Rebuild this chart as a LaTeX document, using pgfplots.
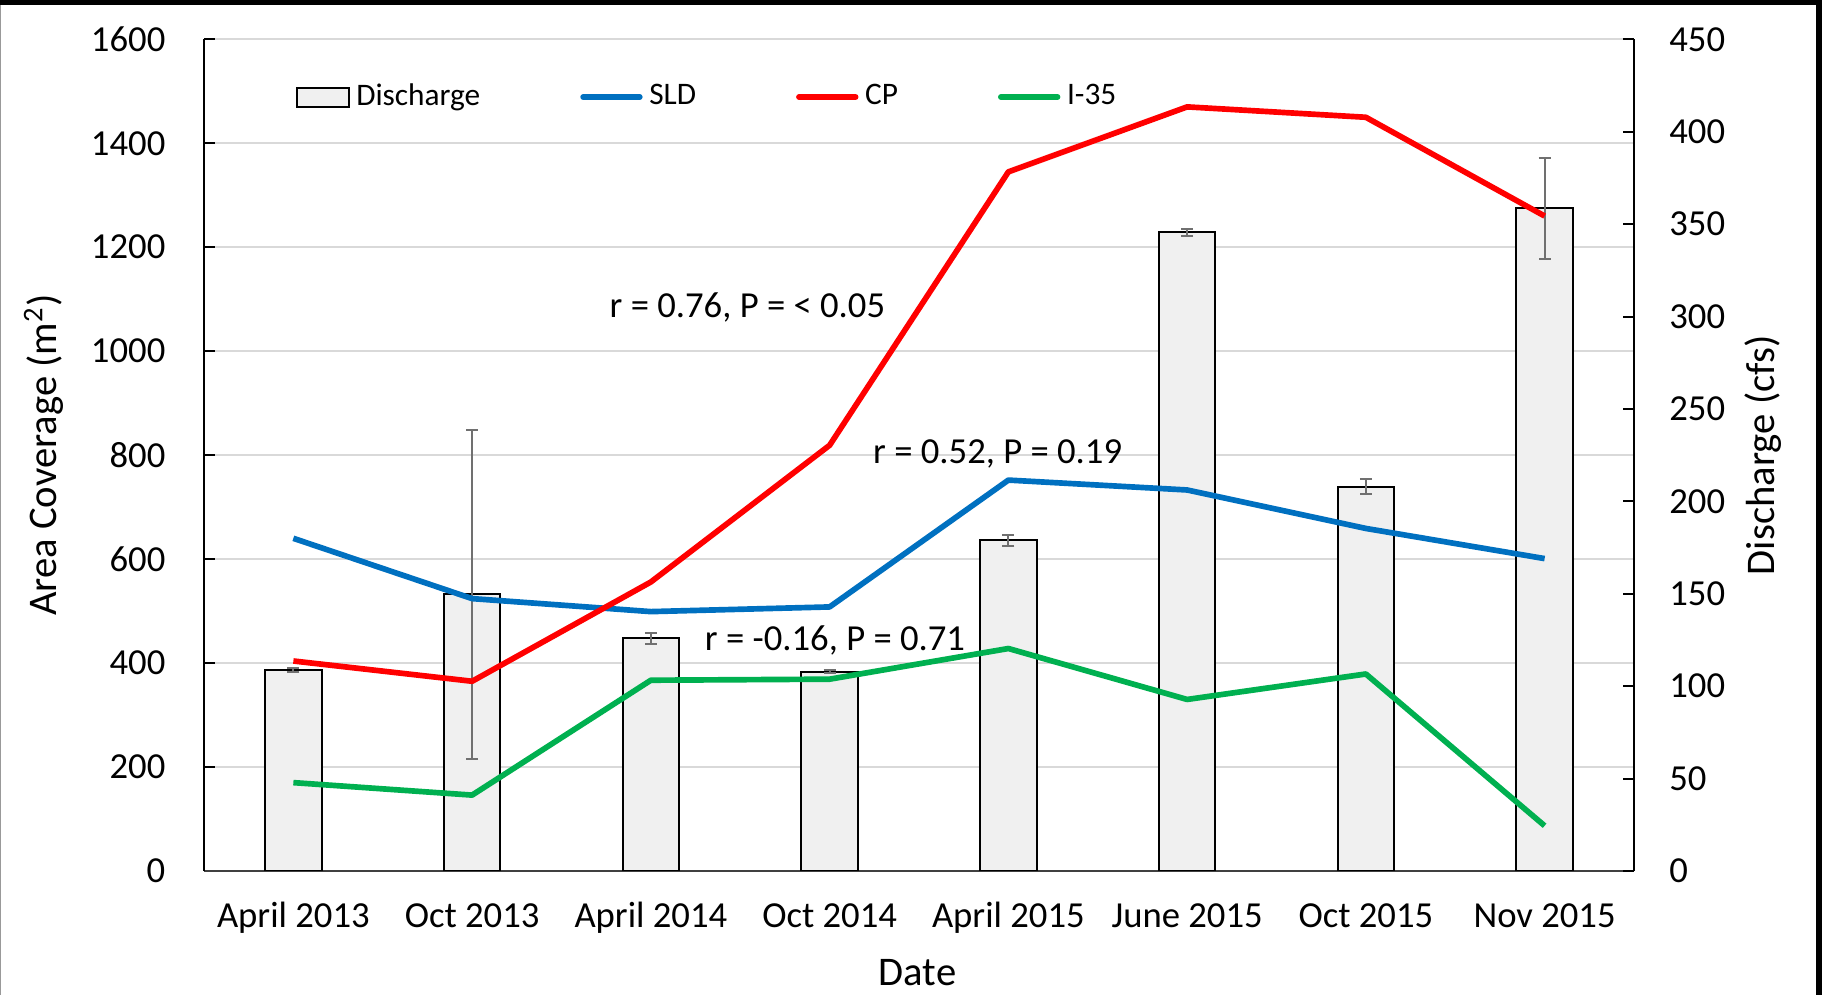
\documentclass[border=0pt]{standalone}
\usepackage{fontspec}
\setmainfont{Carlito}
\usepackage{pgfplots}
\pgfplotsset{compat=1.18}

\definecolor{sld}{HTML}{0070C0}
\definecolor{cp}{HTML}{FF0000}
\definecolor{ithirtyfive}{HTML}{00B050}
\definecolor{barfill}{HTML}{F0F0F0}
\definecolor{errgray}{HTML}{707070}

\newcommand{\tickfont}{\fontsize{11}{13}\selectfont}
\newcommand{\labelfont}{\fontsize{12.2}{14}\selectfont}

\pgfplotsset{
  base/.style={
    scale only axis, width=429pt, height=249.5pt,
    xmin=-0.5, xmax=7.5, ymin=0,
    /pgf/number format/assume math mode=true,
    /pgf/number format/1000 sep={},
    tick align=inside, major tick length=3.3pt,
    axis line style={-, line width=0.6pt},
    tick style={black, line width=0.6pt},
    ticklabel style={font=\tickfont},
    label style={font=\labelfont},
  },
  linelegend/.style={legend image code/.code={\draw[##1, line cap=round] (0pt,0pt) -- (17pt,0pt);}},
  barlegend/.style={legend image code/.code={\draw[fill=barfill, draw=black, line width=0.6pt] (0pt,-2.85pt) rectangle (15.6pt,2.85pt);}},
}

\begin{document}
\begin{tikzpicture}

% left axis: grid, categories, area coverage scale
\begin{axis}[base,
  ymax=1600, ytick distance=200,
  axis y line*=left, axis x line*=bottom,
  x axis line style={draw=black!75},
  xmajorgrids=false, ymajorgrids, grid style={color=black!15, line width=0.6pt},
  xtick={0,...,7},
  xticklabels={April 2013, Oct 2013, April 2014, Oct 2014, April 2015, June 2015, Oct 2015, Nov 2015},
  xtick style={draw=none},
  xticklabel style={anchor=base, inner sep=0pt, yshift=-17.1pt},
  yticklabel style={anchor=east, inner sep=0pt, xshift=-11.4pt},
  xlabel={Date},
  xlabel style={at={(axis description cs:0.499,-0.1226)}, anchor=center},
  ylabel={Area Coverage (m\textsuperscript{2})},
  ylabel style={at={(axis description cs:-0.112,0.5)}, anchor=center},
]
\addplot[draw=none] coordinates {(0,0)};
\end{axis}

% right axis: discharge bars
\begin{axis}[base,
  ymax=450, ytick distance=50, xtick=\empty,
  axis y line*=right, axis x line=none,
  yticklabel style={anchor=west, inner sep=0pt, xshift=10.4pt},
  ylabel={Discharge (cfs)},
  ylabel style={at={(axis description cs:1.0906,0.5)}, anchor=center},
  ybar, bar width=16.9pt,
]
\addplot[fill=barfill, draw=black, line width=0.6pt,
  error bars/.cd, y dir=both, y explicit,
  error bar style={line width=0.6pt, draw=errgray},
  error mark options={rotate=90, mark size=1.8pt, line width=0.6pt, draw=errgray}]
coordinates {
  (0,108.8) +- (0,1.0)
  (1,149.7) +- (0,88.9)
  (2,125.8) +- (0,3.1)
  (3,107.9) +- (0,1.0)
  (4,178.9) +- (0,2.9)
  (5,345.5) +- (0,2.0)
  (6,207.9) +- (0,4.0)
  (7,358.6) +- (0,27.3)
};
\end{axis}

% area coverage lines, legend and notes
\begin{axis}[base,
  ymax=1600, hide axis, xtick=\empty, ytick=\empty,
  legend columns=4,
  legend style={at={(axis description cs:0.0636,0.9306)}, anchor=west,
    draw=none, fill=none, inner sep=0pt, font=\fontsize{9.4}{11}\selectfont,
    nodes={inner xsep=2pt},
    /tikz/every even column/.append style={column sep=28pt}},
  linelegend,
]
\addlegendimage{barlegend}
\addlegendentry{Discharge}

\addplot[sld, line width=1.7pt, line join=round] coordinates {
  (0,640) (1,524) (2,499) (3,508) (4,752) (5,733) (6,659) (7,601)
};
\addlegendentry{SLD}

\addplot[cp, line width=1.7pt, line join=round] coordinates {
  (0,404) (1,365) (2,556) (3,819) (4,1345) (5,1470) (6,1450) (7,1260)
};
\addlegendentry{CP}

\addplot[ithirtyfive, line width=1.7pt, line join=round] coordinates {
  (0,170) (1,146) (2,367) (3,369) (4,428) (5,330) (6,379) (7,87)
};
\addlegendentry{I-35}

\node[font=\tickfont] at (axis cs:2.54,1085) {r = 0.76, P = < 0.05};
\node[font=\tickfont] at (axis cs:3.94,802) {r = 0.52, P = 0.19};
\node[font=\tickfont] at (axis cs:3.03,444) {r = -0.16, P = 0.71};
\end{axis}

\pgfresetboundingbox
\useasboundingbox (-61.2pt,-37.2pt) rectangle (486.3pt,261.3pt);
\draw[black!40, line width=0.3pt] (-61.05pt,-37.2pt) -- (-61.05pt,261.3pt);
\draw[black, line width=1.5pt] (-61.2pt,260.55pt) -- (485.4pt,260.55pt);
\draw[black, line width=1.8pt] (484.5pt,261.3pt) -- (484.5pt,-37.2pt);
\end{tikzpicture}
\end{document}
